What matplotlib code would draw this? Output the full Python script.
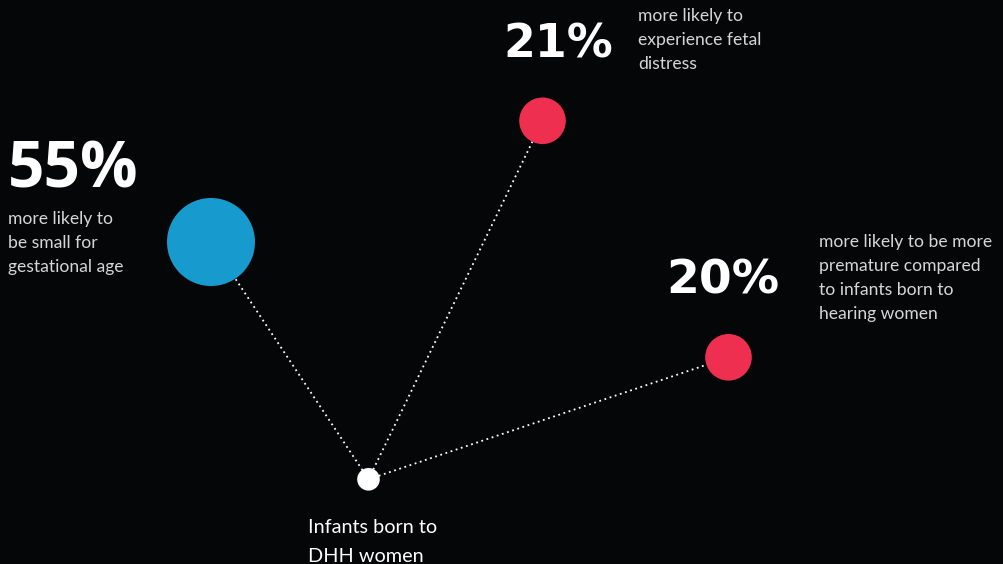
import matplotlib.pyplot as plt
from matplotlib.patches import Circle

# data
values = [55, 21, 20]
descriptions = [
    ["more likely to", "be small for", "gestational age"],
    ["more likely to", "experience fetal", "distress"],
    ["more likely to be more", "premature compared", "to infants born to", "hearing women"],
]
hub_label = ["Infants born to", "DHH women"]

# layout (pixel space, y down)
hub_xy = (368.5, 479.3)
node_xy = [(211, 242), (542.5, 120.8), (728.5, 357.3)]
node_r = [44, 23.3, 23.3]
node_col = ["#179bce", "#ee2f4f", "#ee2f4f"]
num_xy = [(8, 188), (503, 57), (666, 294)]
num_font = [("Open Sans", 46), ("DejaVu Sans", 33), ("DejaVu Sans", 34)]
desc_xy = [(8, 224), (638, 21), (819, 247)]
line_h = 24

BG = "#050608"
TXT = "#d6d6d6"

fig = plt.figure(figsize=(10.04, 5.64), dpi=100, facecolor=BG)
ax = fig.add_axes([0, 0, 1, 1])
ax.set_facecolor(BG)
ax.set_xlim(0, 1004)
ax.set_ylim(564, 0)
ax.axis("off")

for (x, y), r, c in zip(node_xy, node_r, node_col):
    ax.plot([hub_xy[0], x], [hub_xy[1], y], color="white", lw=1.3,
            linestyle=(0, (1, 2)), zorder=1)
    ax.add_patch(Circle((x, y), r, color=c, zorder=2, lw=0))

ax.add_patch(Circle(hub_xy, 11.3, color="white", zorder=3, lw=0))

for v, (x, y), (fam, fs) in zip(values, num_xy, num_font):
    ax.text(x, y, f"{v}%", color="white", fontsize=fs, fontweight="bold",
            fontstyle="normal", family=fam, ha="left", va="baseline")

for lines, (x, y) in zip(descriptions, desc_xy):
    for i, s in enumerate(lines):
        ax.text(x, y + i * line_h, s, color=TXT, fontsize=12.6, family="Lato",
                ha="left", va="baseline")

for i, s in enumerate(hub_label):
    ax.text(308, 533 + i * 28.5, s, color="white", fontsize=14.3, family="Lato",
            ha="left", va="baseline")

fig.savefig("out.png", dpi=100, facecolor=BG)
